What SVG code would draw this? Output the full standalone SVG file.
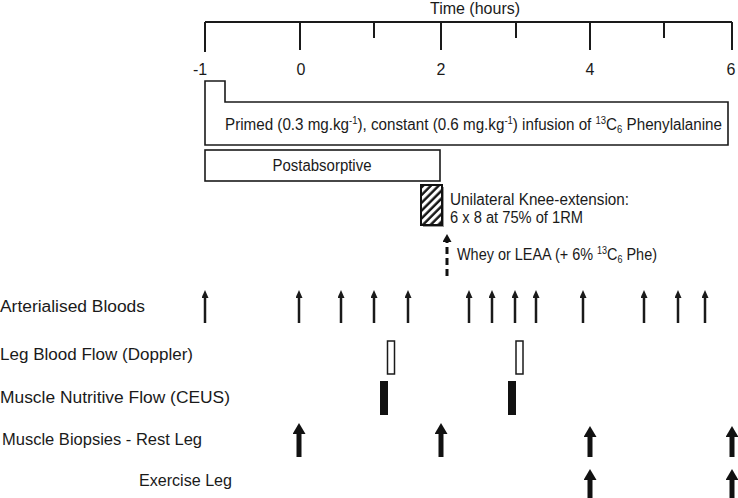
<svg xmlns="http://www.w3.org/2000/svg" width="738" height="498" viewBox="0 0 738 498">
<style>
text{font-family:"Liberation Sans","Open Sans",Arial,sans-serif;font-size:16px;fill:#1a1a1a}
.ax{stroke:#1a1a1a;stroke-width:2;fill:none}
.box{fill:#fff;stroke:#1a1a1a;stroke-width:1.6}
.thin{stroke:#1a1a1a;stroke-width:2.5;marker-end:url(#hs)}
.thick{stroke:#111;stroke-width:5;marker-end:url(#hb)}
.sup{font-size:10px}
</style>
<defs>
<marker id="hs" viewBox="0 0 8 7" refX="1" refY="3.5" markerWidth="8" markerHeight="7" markerUnits="userSpaceOnUse" orient="auto"><path d="M0,0 L8,3.5 L0,7 z" fill="#1a1a1a"/></marker>
<marker id="hb" viewBox="0 0 11 13" refX="1" refY="6.5" markerWidth="11" markerHeight="13" markerUnits="userSpaceOnUse" orient="auto"><path d="M0,0 L11,6.5 L0,13 z" fill="#111"/></marker>
<marker id="hd" viewBox="0 0 8 9" refX="1" refY="4.5" markerWidth="8" markerHeight="9" markerUnits="userSpaceOnUse" orient="auto"><path d="M0,0 L8,4.5 L0,9 z" fill="#111"/></marker>
<pattern id="hatch" patternUnits="userSpaceOnUse" width="5.5" height="5.5" patternTransform="rotate(45)"><rect width="5.5" height="5.5" fill="#fff"/><line x1="1.5" y1="0" x2="1.5" y2="5.5" stroke="#111" stroke-width="2.4"/></pattern>
</defs>

<g id="axis">
<text x="475" y="14" text-anchor="middle">Time (hours)</text>
<path class="ax" d="M205,22 H732 M205,22 V52 M300,22 V50 M374,22 V38 M441,22 V50 M516,22 V38 M590,22 V50 M664,22 V38 M732,22 V50"/>
<text x="200" y="75" text-anchor="middle">-1</text>
<text x="301" y="75" text-anchor="middle">0</text>
<text x="441" y="75" text-anchor="middle">2</text>
<text x="590" y="75" text-anchor="middle">4</text>
<text x="731" y="75" text-anchor="middle">6</text>
</g>

<g id="infusion">
<path class="box" d="M205,81 H225 V102 H728 V145 H205 Z"/>
<text x="225" y="130" textLength="497" lengthAdjust="spacingAndGlyphs">Primed (0.3 mg.kg<tspan class="sup" dy="-6">-1</tspan><tspan dy="6">), constant (0.6 mg.kg</tspan><tspan class="sup" dy="-6">-1</tspan><tspan dy="6">) infusion of </tspan><tspan class="sup" dy="-6">13</tspan><tspan dy="6">C</tspan><tspan class="sup" dy="3">6</tspan><tspan dy="-3"> Phenylalanine</tspan></text>
</g>

<g id="postabsorptive">
<rect class="box" x="205" y="150" width="235" height="31"/>
<text x="322" y="171" text-anchor="middle" textLength="99" lengthAdjust="spacingAndGlyphs">Postabsorptive</text>
</g>

<g id="exercise">
<rect x="423" y="187" width="21" height="40" fill="#9a9a9a"/>
<rect x="421" y="185" width="21" height="40" fill="url(#hatch)" stroke="#111" stroke-width="2"/>
<text x="450" y="205" textLength="179" lengthAdjust="spacingAndGlyphs">Unilateral Knee-extension:</text>
<text x="450" y="223" textLength="133" lengthAdjust="spacingAndGlyphs">6 x 8 at 75% of 1RM</text>
</g>

<g id="feeding">
<line x1="447" y1="276" x2="447" y2="241" stroke="#111" stroke-width="3" stroke-dasharray="7 4" marker-end="url(#hd)"/>
<text x="457" y="260" textLength="200" lengthAdjust="spacingAndGlyphs">Whey or LEAA (+ 6% <tspan class="sup" dy="-6">13</tspan><tspan dy="6">C</tspan><tspan class="sup" dy="3">6</tspan><tspan dy="-3"> Phe)</tspan></text>
</g>

<g id="labels">
<text x="0" y="312" textLength="145" lengthAdjust="spacingAndGlyphs">Arterialised Bloods</text>
<text x="0" y="360" textLength="193" lengthAdjust="spacingAndGlyphs">Leg Blood Flow (Doppler)</text>
<text x="0" y="403" textLength="230" lengthAdjust="spacingAndGlyphs">Muscle Nutritive Flow (CEUS)</text>
<text x="2" y="445" textLength="200" lengthAdjust="spacingAndGlyphs">Muscle Biopsies - Rest Leg</text>
<text x="139" y="486" textLength="93" lengthAdjust="spacingAndGlyphs">Exercise Leg</text>
</g>

<g id="doppler">
<rect x="387.5" y="341" width="7" height="33" fill="#fff" stroke="#1a1a1a" stroke-width="1.5"/>
<rect x="516" y="341" width="7" height="33" fill="#fff" stroke="#1a1a1a" stroke-width="1.5"/>
</g>

<g id="ceus">
<rect x="380" y="381" width="8" height="34" fill="#111"/>
<rect x="508" y="381" width="8" height="34" fill="#111"/>
</g>

<g id="connectors">
<g id="bloods">
<line class="thin" x1="205" y1="323" x2="205" y2="297"/>
<line class="thin" x1="299" y1="323" x2="299" y2="297"/>
<line class="thin" x1="341" y1="323" x2="341" y2="297"/>
<line class="thin" x1="374" y1="323" x2="374" y2="297"/>
<line class="thin" x1="408" y1="323" x2="408" y2="297"/>
<line class="thin" x1="469" y1="323" x2="469" y2="297"/>
<line class="thin" x1="492" y1="323" x2="492" y2="297"/>
<line class="thin" x1="515" y1="323" x2="515" y2="297"/>
<line class="thin" x1="536" y1="323" x2="536" y2="297"/>
<line class="thin" x1="583" y1="323" x2="583" y2="297"/>
<line class="thin" x1="644" y1="323" x2="644" y2="297"/>
<line class="thin" x1="678" y1="323" x2="678" y2="297"/>
<line class="thin" x1="705" y1="323" x2="705" y2="297"/>
</g>
<g id="biopsies">
<line class="thick" x1="299" y1="457" x2="299" y2="433"/>
<line class="thick" x1="441" y1="457" x2="441" y2="433"/>
<line class="thick" x1="590" y1="457" x2="590" y2="436"/>
<line class="thick" x1="732" y1="457" x2="732" y2="436"/>
<line class="thick" x1="590" y1="500" x2="590" y2="479"/>
<line class="thick" x1="732" y1="500" x2="732" y2="479"/>
</g>
</g>
</svg>
